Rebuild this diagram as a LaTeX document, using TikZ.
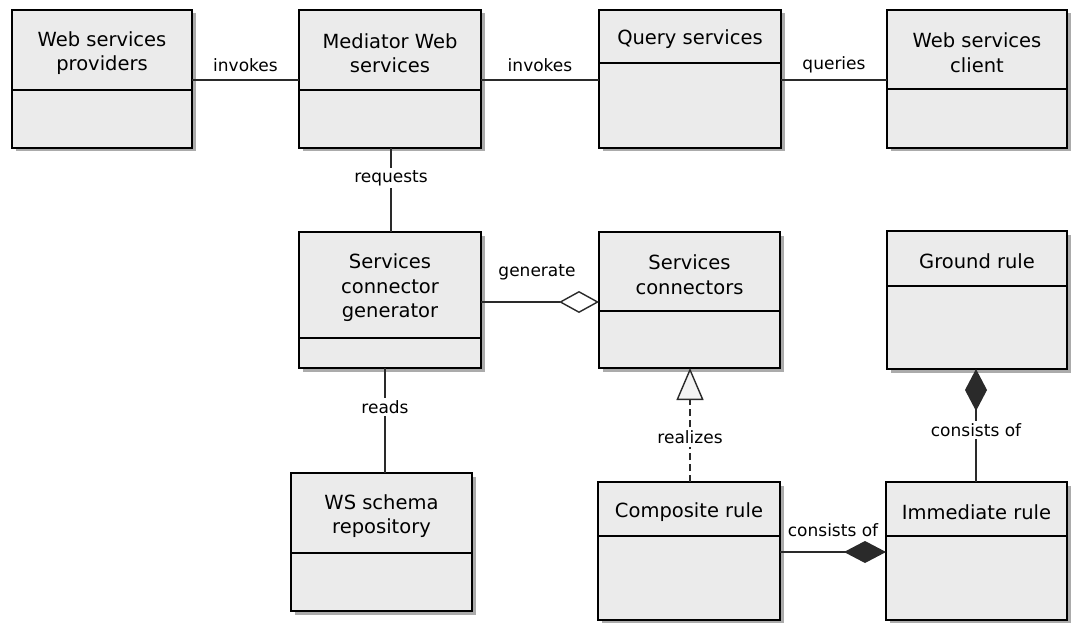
\documentclass[tikz,border=0pt]{standalone}
\usepackage{fontspec}
\setmainfont{DejaVu Sans}
\usetikzlibrary{arrows.meta, calc}

\definecolor{boxfill}{HTML}{EBEBEB}
\definecolor{shadowgray}{HTML}{ABABAB}
\definecolor{inkgray}{HTML}{2A2A2A}

\tikzset{
  classbox/.style={draw=black, line width=1.6pt, fill=boxfill, inner sep=0pt, outer sep=0pt},
  divider/.style={draw=black, line width=1.5pt},
  classtitle/.style={align=center, inner sep=0pt, font=\fontsize{19.5}{24.5}\selectfont},
  assoc/.style={draw=inkgray, line width=1.4pt},
  rel/.style={font=\fontsize{17}{20}\selectfont, inner sep=1.5pt},
  relv/.style={rel, fill=white, inner sep=2.5pt},
  aggtip/.style={-{Diamond[length=40pt, width=22pt, fill=white, line join=miter]}},
  comptip/.style={-{Diamond[length=42pt, width=22pt, fill=inkgray, line join=miter]}},
  realtip/.style={-{Triangle[length=32pt, width=27pt, fill=boxfill!60, line join=miter]}},
}

% \umlclass{name}{x1}{y1}{x2}{y2}{divider y}{title}
\newcommand\umlclass[7]{%
  \fill[shadowgray] (#2+3.5,#3+3.5) rectangle (#4+3.5,#5+3.5);
  \node[classbox, minimum width={#4-#2}, minimum height={#5-#3}] (#1)
    at ({(#2+#4)/2},{(#3+#5)/2}) {};
  \draw[divider] (#2,#6) -- (#4,#6);
  \node[classtitle] (#1-title) at ({(#2+#4)/2},{(#3+#6)/2+3}) {#7};
}

\begin{document}
\begin{tikzpicture}[x=1pt, y=-1pt]
  \fill[white] (0,0) rectangle (1071,623);
  \useasboundingbox (0,0) rectangle (1071,623);

  % classes
  \umlclass{wsp}{12}{10}{192}{148}{90}{Web services\\providers}
  \umlclass{med}{299}{10}{481}{148}{90}{Mediator Web\\services}
  \umlclass{qry}{599}{10}{781}{148}{63}{Query services}
  \umlclass{cli}{887}{10}{1067}{148}{89}{Web services\\client}
  \umlclass{gen}{299}{232}{481}{368}{338}{Services\\connector\\generator}
  \umlclass{con}{599}{232}{780}{368}{311}{Services\\connectors}
  \umlclass{gnd}{887}{231}{1067}{369}{286}{Ground rule}
  \umlclass{wsr}{291}{473}{472}{611}{553}{WS schema\\repository}
  \umlclass{cmp}{598}{482}{780}{620}{536}{Composite rule}
  \umlclass{imm}{886}{482}{1067}{620}{536}{Immediate rule}

  % associations along the top row
  \draw[assoc] (wsp.east |- 0,80) -- node[rel, midway, yshift=15pt] {invokes} (med.west |- 0,80);
  \draw[assoc] (med.east |- 0,80) -- node[rel, midway, yshift=15pt] {invokes} (qry.west |- 0,80);
  \draw[assoc] (qry.east |- 0,80) -- node[rel, midway, yshift=15pt] {queries} (cli.west |- 0,80);

  % vertical associations
  \draw[assoc] (med.south -| 391,0) -- node[relv, pos=0.36] {requests} (gen.north -| 391,0);
  \draw[assoc] (gen.south -| 385,0) -- node[relv, pos=0.37] {reads} (wsr.north -| 385,0);

  % aggregation
  \draw[assoc, aggtip] (gen.east |- 0,302) -- node[rel, midway, yshift=30pt, xshift=-3pt] {generate} (con.west |- 0,302);

  % realization
  \draw[assoc, realtip, dash pattern=on 7pt off 4pt] (cmp.north -| 690,0) -- node[relv, pos=0.39, dash pattern=] {realizes} (con.south -| 690,0);

  % compositions
  \draw[assoc, comptip] (imm.north -| 976,0) -- node[relv, pos=0.46] {consists of} (gnd.south -| 976,0);
  \draw[assoc, comptip] (cmp.east |- 0,552) -- node[rel, midway, yshift=22pt] {consists of} (imm.west |- 0,552);
\end{tikzpicture}
\end{document}
